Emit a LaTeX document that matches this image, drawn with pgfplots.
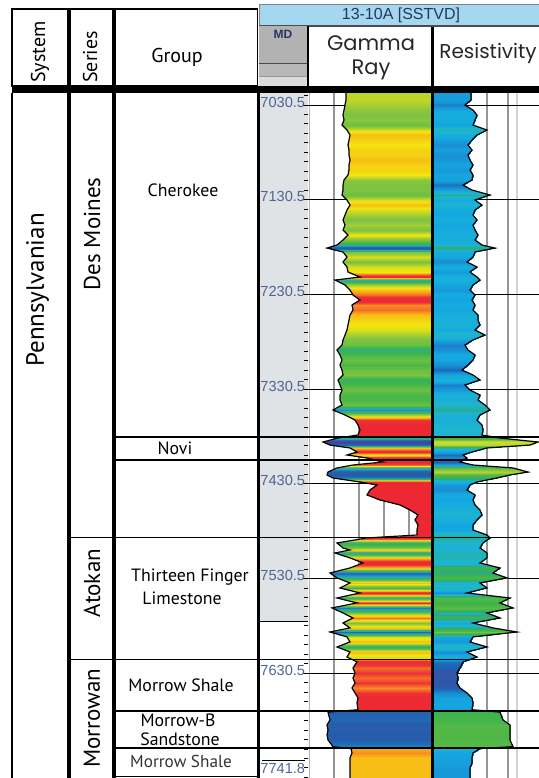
\documentclass[border=0pt]{standalone}
\usepackage{fontspec}
\setmainfont{PT Sans}
\newfontfamily\geo{Poppins}
\newfontfamily\ari{Liberation Sans}
\usepackage{pgfplots}
\usepackage{pgfplotstable}
\pgfplotsset{compat=1.18}

\definecolor{mdgray}{RGB}{223,227,230}
\definecolor{hdrblue}{RGB}{163,216,240}
\definecolor{navy}{RGB}{40,52,100}
\definecolor{gridg}{RGB}{150,150,150}
\definecolor{mdlab}{RGB}{80,100,145}

% pixel row of the sheet -> depth (ft)
\newcommand{\py}[1]{\fpeval{6919.6+1.055913*(#1)}}
\newcommand{\fs}[1]{\fontsize{#1}{#1}\selectfont}

\pgfplotsset{
  colormap={grmap}{rgb255(0cm)=(102,45,145) rgb255(5cm)=(40,90,170)
    rgb255(9cm)=(30,110,185) rgb255(13cm)=(38,168,196) rgb255(17cm)=(57,181,74)
    rgb255(22cm)=(141,198,63) rgb255(26cm)=(242,230,14) rgb255(29cm)=(250,170,25)
    rgb255(33cm)=(237,50,55) rgb255(36cm)=(237,40,50)},
  colormap={resmap}{rgb255(0cm)=(63,76,160) rgb255(6cm)=(28,100,180)
    rgb255(12cm)=(25,140,210) rgb255(19cm)=(20,170,225) rgb255(29cm)=(30,182,205)
    rgb255(37cm)=(40,170,140) rgb255(45cm)=(60,180,75) rgb255(57cm)=(85,185,70)
    rgb255(70cm)=(170,205,55) rgb255(83cm)=(205,222,40)},
}

% depth, gamma ray and resistivity curve positions (track units)
\pgfplotstableread{
d gr rs
7017.8 346 471
7025.2 346 471
7030.5 345 465
7035.8 344 473
7041.1 343 477
7046.3 344 475
7051.6 342 473
7056.9 347 487
7062.2 350 477
7067.5 349 472
7072.7 348 468
7078.0 349 472
7083.3 349 468
7088.6 350 470
7093.8 349 473
7099.1 349 470
7104.4 348 473
7109.7 344 472
7115.0 343 463
7120.2 343 472
7125.5 342 490
7130.8 347 475
7136.1 350 482
7141.4 347 475
7146.6 345 473
7151.9 343 477
7157.2 345 473
7162.5 343 475
7167.7 348 478
7173.0 343 475
7178.3 337 482
7181.5 327 495
7185.7 343 475
7191.0 347 473
7196.3 343 467
7201.5 347 477
7206.8 348 470
7212.1 360 477
7215.3 335 480
7220.5 345 473
7225.8 350 470
7231.1 353 475
7236.4 360 472
7241.6 352 475
7246.9 353 473
7252.2 350 478
7257.5 349 478
7262.8 348 480
7268.0 347 475
7273.3 345 485
7278.6 343 473
7283.9 342 465
7289.2 337 468
7294.4 340 475
7299.7 342 473
7305.0 340 468
7310.3 342 462
7315.5 343 473
7320.8 338 480
7326.1 340 465
7331.4 342 470
7336.7 340 480
7341.9 340 478
7347.2 342 485
7352.5 333 490
7357.8 345 480
7363.1 355 477
7368.3 358 482
7373.6 360 483
7378.9 358 482
7382.1 338 500
7386.3 323 538
7389.5 330 530
7392.6 350 487
7396.9 357 472
7400.0 347 463
7403.2 367 467
7407.4 383 460
7410.6 353 473
7413.7 337 513
7418.0 328 528
7421.1 327 510
7424.3 333 497
7428.5 360 477
7431.7 377 470
7437.0 370 467
7442.2 367 475
7447.5 380 473
7452.8 400 475
7458.1 410 480
7463.3 418 482
7468.6 415 477
7473.9 418 473
7479.2 417 473
7484.5 417 487
7487.6 367 490
7492.9 337 483
7498.2 343 480
7500.3 350 483
7503.5 335 487
7508.7 350 487
7514.0 363 480
7519.3 350 500
7524.6 330 493
7529.8 337 507
7535.1 350 480
7540.4 340 487
7545.7 360 467
7551.0 337 510
7556.2 357 500
7561.5 332 513
7566.8 343 487
7572.1 353 500
7577.4 343 473
7582.6 350 493
7586.9 330 517
7592.1 347 473
7597.4 350 470
7602.7 337 487
7608.0 350 467
7613.3 347 477
7618.5 357 463
7624.9 353 460
7630.2 355 457
7635.5 353 458
7640.8 355 457
7646.0 352 460
7651.3 355 467
7656.6 358 472
7661.9 357 473
7669.0 358 472
7671.5 328 500
7679.8 330 503
7685.1 327 510
7690.4 328 510
7695.6 327 510
7700.9 328 510
7708.0 333 513
7710.0 351 480
7714.6 352 473
7719.9 350 472
7725.2 350 472
7730.5 350 470
7741.1 350 470
}\logtab
\pgfplotstablegetrowsof{\logtab}
\let\nrows\pgfplotsretval
\pgfplotstablevertcat{\logmesh}{\logtab}
\pgfplotstablevertcat{\logmesh}{\logtab}

\begin{document}
\begin{tikzpicture}
\useasboundingbox (0,0) rectangle (269.5pt,-389pt);
\begin{axis}[
  at={(0,0)}, anchor=north west, scale only axis,
  width=269.5pt, height=389pt,
  xmin=0, xmax=539, ymin=6919.6, ymax=7741.1, y dir=reverse,
  point meta min=0, point meta max=1,
  hide axis, clip=false]
  % MD track background
  \fill[mdgray] (axis cs:258,\py{93}) rectangle (axis cs:308,7576.3);
  % track grid
  \draw[gray!60, line width=0.5pt] (axis cs:309,\py{93}) -- (axis cs:309,\py{778});
  \pgfplotsinvokeforeach{334,359,384,409,487,508}{
    \draw[gridg, line width=0.7pt] (axis cs:#1,\py{93}) -- (axis cs:#1,\py{778});}
  \draw[gray!35, line width=0.7pt] (axis cs:517,\py{93}) -- (axis cs:517,\py{778});
  \pgfplotsinvokeforeach{7030.5,7130.5,7230.5,7330.5,7430.5,7530.5,7630.5}{
    \draw[black, line width=0.5pt] (axis cs:303,#1) -- (axis cs:539,#1);}
  % gamma ray fill (curve -> right edge of track), colour from the curve value
  \addplot[surf, shader=interp, mesh/ordering=y varies, mesh/rows=\nrows, mesh/cols=2,
    colormap name=grmap, point meta=explicit]
    table[y=d, x expr={\coordindex<\nrows ? \thisrow{gr} : 431},
      meta expr={(\thisrow{gr}-322)/36}] {\logmesh};
  % resistivity fill (left edge of track -> curve)
  \addplot[surf, shader=interp, mesh/ordering=y varies, mesh/rows=\nrows, mesh/cols=2,
    colormap name=resmap, point meta=explicit]
    table[y=d, x expr={\coordindex<\nrows ? 434 : \thisrow{rs}},
      meta expr={(\thisrow{rs}-455)/83}] {\logmesh};
  \addplot[black, line width=0.6pt, no markers] table[x=gr, y=d] {\logtab};
  \addplot[black, line width=0.6pt, no markers] table[x=rs, y=d] {\logtab};
  \draw[black, line width=1.2pt] (axis cs:432.5,\py{26}) -- (axis cs:432.5,\py{778});
  % formation tops
  \draw[black, line width=0.55pt] (axis cs:115,7381.0) -- (axis cs:539,7381.0);
  \draw[black, line width=0.55pt] (axis cs:115,7405.3) -- (axis cs:539,7405.3);
  \draw[black, line width=0.55pt] (axis cs:70,7487.1) -- (axis cs:539,7487.1);
  \draw[black, line width=0.55pt] (axis cs:67,7616.0) -- (axis cs:539,7616.0);
  \draw[black, line width=0.55pt] (axis cs:115,7670.3) -- (axis cs:539,7670.3);
  \draw[black, line width=0.55pt] (axis cs:115,7709.4) -- (axis cs:539,7709.4);
  \draw[black, line width=0.55pt] (axis cs:115,7739.4) -- (axis cs:258,7739.4);
  \draw[black, line width=0.5pt] (axis cs:258,7576.3) -- (axis cs:308,7576.3);
  \draw[black, line width=0.5pt] (axis cs:262,\py{760}) -- (axis cs:305,\py{760});
  \node[font=\ari\fs{7.3}, text=mdlab, anchor=west, inner sep=0pt] at (axis cs:260,\py{768}) {7741.8};
  % header of the log
  \fill[hdrblue] (axis cs:259,\py{4}) rectangle (axis cs:539,\py{26});
  \draw[gray, line width=0.5pt] (axis cs:259,\py{26}) -- (axis cs:259,\py{4}) -- (axis cs:539,\py{4});
  \draw[black!70, line width=0.6pt] (axis cs:259,\py{26}) -- (axis cs:539,\py{26});
  \node[font=\ari\fs{8}, text=navy] at (axis cs:401,\py{15}) {13-10A [SSTVD]};
  \fill[black!30] (axis cs:259,\py{26}) rectangle (axis cs:308,\py{63});
  \fill[black!28] (axis cs:259,\py{63}) rectangle (axis cs:308,\py{76});
  \fill[black!14] (axis cs:259,\py{76}) rectangle (axis cs:308,\py{86});
  \draw[black!70, line width=0.5pt] (axis cs:259,\py{63}) -- (axis cs:308,\py{63});
  \draw[black!40, line width=0.4pt] (axis cs:259,\py{76}) -- (axis cs:308,\py{76});
  \node[font=\ari\bfseries\fs{6}, text=navy] at (axis cs:283,\py{34}) {MD};
  \draw[black, line width=0.6pt] (axis cs:308,\py{26}) -- (axis cs:308,\py{86});
  \node[font=\geo\fs{10.5}, text=black!85] at (axis cs:371,\py{43}) {Gamma};
  \node[font=\geo\fs{10.5}, text=black!85] at (axis cs:371,\py{70}) {Ray};
  \node[font=\geo\fs{10}, text=black!85] at (axis cs:488,\py{53}) {Resistivity};
  % stratigraphic table
  \draw[black, line width=0.55pt] (axis cs:12,\py{86}) rectangle (axis cs:68,\py{9});
  \draw[black, line width=0.55pt] (axis cs:70,\py{86}) rectangle (axis cs:113,\py{9});
  \draw[black, line width=0.55pt] (axis cs:115,\py{86}) rectangle (axis cs:257.5,\py{9});
  \node[rotate=90, font=\fs{10}] at (axis cs:40,\py{52}) {System};
  \node[rotate=90, font=\fs{10}] at (axis cs:90,\py{57}) {Series};
  \node[font=\fs{10}] at (axis cs:177,\py{57}) {Group};
  \fill[black] (axis cs:12,\py{86}) rectangle (axis cs:539,\py{93});
  \pgfplotsinvokeforeach{12,68,70,113,115,257.5}{
    \draw[black, line width=0.55pt] (axis cs:#1,\py{93}) -- (axis cs:#1,\py{778});}
  \draw[black, line width=0.55pt] (axis cs:259,\py{93}) -- (axis cs:259,\py{778});
  \node[rotate=90, font=\fs{12.5}] at (axis cs:37.5,\py{290}) {Pennsylvanian};
  \node[rotate=90, font=\fs{11.5}] at (axis cs:92,\py{234}) {Des Moines};
  \node[rotate=90, font=\fs{11.5}] at (axis cs:92,\py{583}) {Atokan};
  \node[rotate=90, font=\fs{11.5}] at (axis cs:92,\py{718}) {Morrowan};
  \node[font=\fs{8.9}] at (axis cs:183,\py{190}) {Cherokee};
  \node[font=\fs{8.9}] at (axis cs:175,\py{448}) {Novi};
  \node[font=\fs{8.9}] at (axis cs:190,\py{577}) {Thirteen Finger};
  \node[font=\fs{8.9}] at (axis cs:182,\py{598}) {Limestone};
  \node[font=\fs{8.9}] at (axis cs:181,\py{685}) {Morrow Shale};
  \node[font=\fs{8.9}] at (axis cs:178,\py{720}) {Morrow-B};
  \node[font=\fs{8.9}] at (axis cs:180,\py{739}) {Sandstone};
  \node[font=\fs{8.6}, text=black!80] at (axis cs:181,\py{761}) {Morrow Shale};
\end{axis}
% MD depth scale
\begin{axis}[
  at={(129pt,0)}, anchor=north west, scale only axis,
  width=25pt, height=389pt,
  xmin=0, xmax=1, ymin=6919.6, ymax=7741.1, y dir=reverse,
  axis line style={draw=none}, xtick=\empty,
  ytick={7030.5,7130.5,7230.5,7330.5,7430.5,7530.5,7630.5},
  yticklabels={7030.5,7130.5,7230.5,7330.5,7430.5,7530.5,7630.5},
  minor ytick={7020.5,7030.5,...,7740.5},
  ytick pos=right, yticklabel pos=left, tick align=inside,
  major tick length=2.5pt, minor tick length=2pt,
  tick style={black, line width=0.5pt},
  yticklabel style={anchor=west, xshift=1pt, yshift=1.5pt, inner sep=0pt,
    font=\ari\fs{7.3}, text=mdlab}]
\end{axis}
\end{tikzpicture}
\end{document}
